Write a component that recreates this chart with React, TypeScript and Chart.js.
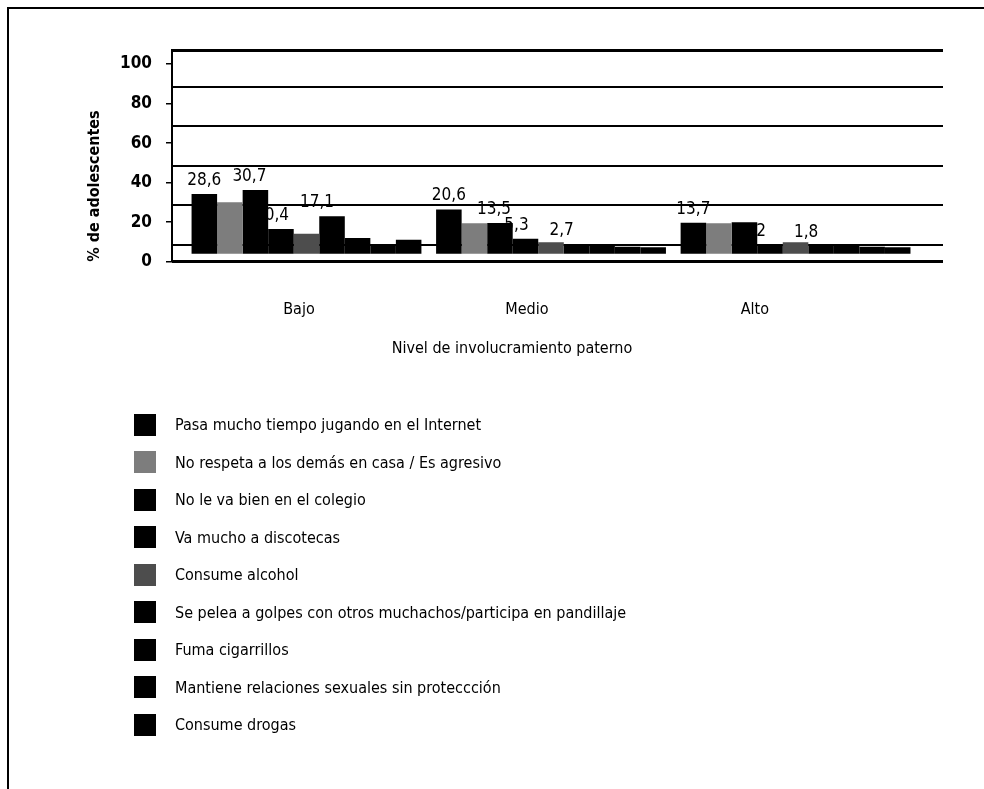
import { useEffect, useRef } from "react";
import { Chart, registerables } from "chart.js";

Chart.register(...registerables);

const FONT = '"Liberation Sans Narrow", "Arial Narrow", "DejaVu Sans Condensed", "Liberation Sans", Arial, sans-serif';

const categories = ["Bajo", "Medio", "Alto"];
const seriesNames = [
  "Pasa mucho tiempo jugando en el Internet",
  "No respeta a los demás en casa / Es agresivo",
  "No le va bien en el colegio",
  "Va mucho a discotecas",
  "Consume alcohol",
  "Se pelea a golpes con otros muchachos/participa en pandillaje",
  "Fuma cigarrillos",
  "Mantiene relaciones sexuales sin proteccción",
  "Consume drogas",
];
const internet = [28.6, 20.6, 13.7];
const agresivo = [24.3, 13.4, 13.4];
const colegio = [30.7, 13.5, 13.9];
const discotecas = [10.4, 5.3, 2];
const alcohol = [7.9, 3.5, 3.5];
const pelea = [17.1, 2.7, 1.8];
const cigarrillos = [5.8, 2.7, 2.7];
const relaciones = [2.7, 1.2, 1.2];
const drogas = [4.9, 0.9, 0.9];
const seriesValues = [internet, agresivo, colegio, discotecas, alcohol, pelea, cigarrillos, relaciones, drogas];
const seriesColors = ["#000000", "#7d7d7d", "#000000", "#000000", "#4d4d4d", "#000000", "#000000", "#000000", "#000000"];
const yTicks = [0, 20, 40, 60, 80, 100];
// which category labels are visible for each series in the reference
const shownLabels: Record<number, number[]> = { 0: [0, 1, 2], 2: [0, 1], 3: [0, 1, 2], 5: [0, 1, 2] };

const fmt = (v: number) => String(v).replace(".", ",");

const valueLabelPlugin = {
  id: "valueLabels",
  afterDatasetsDraw(chart: any) {
    const ctx = chart.ctx;
    ctx.save();
    ctx.font = `17px ${FONT}`;
    ctx.fillStyle = "#000";
    ctx.textAlign = "center";
    ctx.textBaseline = "bottom";
    chart.data.datasets.forEach((_ds: any, di: number) => {
      const shown = shownLabels[di];
      if (!shown) return;
      const meta = chart.getDatasetMeta(di);
      shown.forEach((ci) => {
        const el = meta.data[ci];
        if (!el) return;
        ctx.fillText(fmt(seriesValues[di][ci]), el.x - di * 3, el.y - 5);
      });
    });
    ctx.restore();
  },
};

export default function App() {
  const ref = useRef<HTMLCanvasElement | null>(null);

  useEffect(() => {
    if (!ref.current) return;
    const chart = new Chart(ref.current, {
      type: "bar",
      data: {
        datasets: seriesValues.map((vals, si) => ({
          label: seriesNames[si],
          data: vals.map((v, i) => ({ x: i, y: v })),
          backgroundColor: seriesColors[si],
          borderWidth: 0,
          base: -2.4,
          xAxisID: "x",
          yAxisID: "yb",
          categoryPercentage: 0.94,
          barPercentage: 1,
        })),
      },
      options: {
        responsive: false,
        animation: false,
        events: [],
        layout: { padding: { left: 73, right: 33, top: 42, bottom: 0 } },
        plugins: {
          legend: { display: false },
          tooltip: { enabled: false },
          title: {
            display: true,
            position: "bottom",
            text: "Nivel de involucramiento paterno",
            color: "#000",
            font: { family: FONT, size: 16, weight: "normal" },
            padding: { top: 17, bottom: 0 },
            fullSize: true,
          },
        },
        scales: {
          x: {
            type: "linear",
            display: false,
            min: -0.55,
            max: 2.603,
            offset: false,
            afterBuildTicks: (s: any) => {
              s.ticks = categories.map((_c, i) => ({ value: i }));
            },
            grid: { offset: false },
          },
          xl: {
            type: "linear",
            position: "bottom",
            min: -0.557,
            max: 2.825,
            offset: false,
            afterBuildTicks: (s: any) => {
              s.ticks = categories.map((_c, i) => ({ value: i }));
            },
            ticks: {
              callback: (v: any) => categories[v] ?? "",
              color: "#000",
              font: { family: FONT, size: 16 },
              padding: 38,
              maxRotation: 0,
              autoSkip: false,
            },
            grid: { display: false, drawTicks: false, offset: false },
            border: { display: false },
            afterFit: (s: any) => {
              s.height = 60;
            },
          },
          yb: {
            type: "linear",
            display: false,
            min: -6.6,
            max: 103.3,
          },
          yg: {
            type: "linear",
            position: "left",
            min: -8.6,
            max: 98.5,
            ticks: { display: false, stepSize: 20 },
            grid: {
              color: "#000",
              drawTicks: false,
              lineWidth: (c: any) =>
                c.tick && (c.tick.value <= c.scale.min || c.tick.value >= c.scale.max) ? 3 : 2,
            },
            border: { display: false },
            afterFit: (s: any) => {
              s.width = 0;
            },
          },
          y: {
            type: "linear",
            position: "left",
            min: 0,
            max: 107.1,
            afterBuildTicks: (s: any) => {
              s.ticks = yTicks.map((v) => ({ value: v }));
            },
            ticks: {
              color: "#000",
              font: { family: FONT, size: 17, weight: "bold" },
              padding: 14,
            },
            grid: { drawOnChartArea: false, drawTicks: true, tickLength: 6, color: "#000", lineWidth: 1.5 },
            border: { display: true, color: "#000", width: 2 },
            title: {
              display: true,
              text: "% de adolescentes",
              align: "start",
              color: "#000",
              font: { family: FONT, size: 16, weight: "bold" },
              padding: { top: 4, bottom: 0 },
            },
            afterFit: (s: any) => {
              s.width = 91;
            },
          },
        },
      },
      plugins: [valueLabelPlugin],
    } as any);
    return () => chart.destroy();
  }, []);

  return (
    <div style={{ position: "relative", width: 968, height: 760, fontFamily: FONT, color: "#000" }}>
      <div
        style={{
          position: "fixed",
          left: 7,
          top: 7,
          right: 0,
          bottom: 0,
          borderTop: "2px solid #000",
          borderLeft: "2px solid #000",
          pointerEvents: "none",
        }}
      />
      <canvas ref={ref} width={968} height={350} style={{ display: "block", width: 968, height: 350 }} />
      <div style={{ position: "absolute", left: 126, top: 398 }}>
        {seriesNames.map((name, i) => (
          <div key={name} style={{ display: "flex", alignItems: "center", height: 37.5 }}>
            <span
              style={{
                display: "inline-block",
                width: 22,
                height: 22,
                background: seriesColors[i],
                marginRight: 19,
                flex: "none",
              }}
            />
            <span style={{ fontSize: 16, whiteSpace: "nowrap" }}>{name}</span>
          </div>
        ))}
      </div>
    </div>
  );
}
